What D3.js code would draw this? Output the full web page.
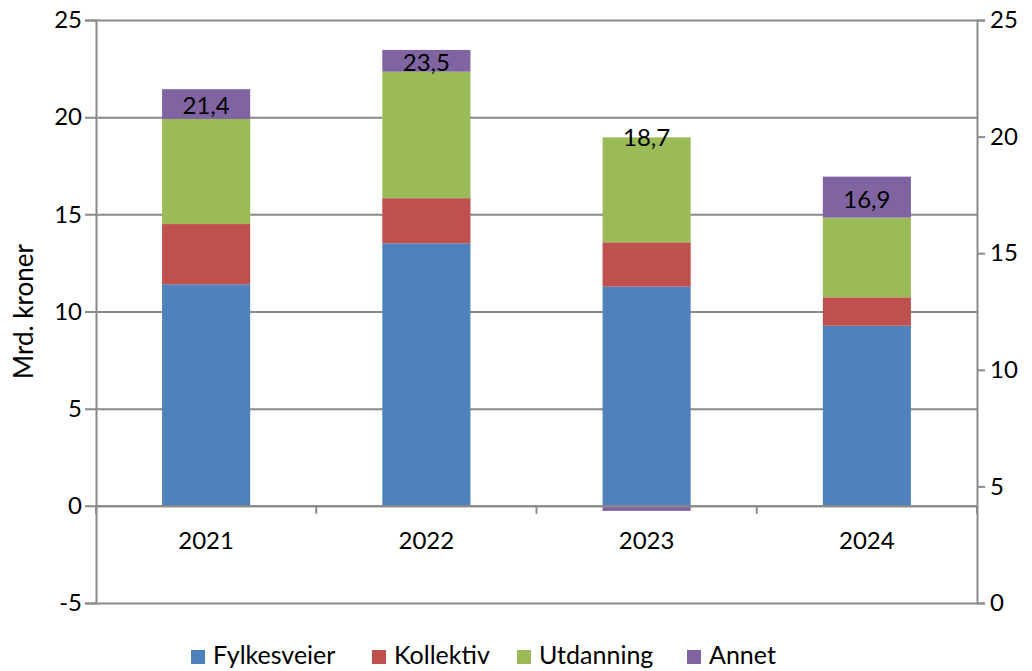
<!DOCTYPE html>
<html>
<head>
<meta charset="utf-8">
<script src="https://cdn.jsdelivr.net/npm/d3@7"></script>
<style>
  html, body { margin: 0; padding: 0; background: #fff; }
  svg text { font-family: Lato, "Open Sans", sans-serif; fill: #000; }
</style>
</head>
<body>
<svg id="chart" width="1032" height="671"></svg>
<script>
// ---- data (Mrd. kroner) ----
const years       = ['2021', '2022', '2023', '2024'];
const seriesNames = ['Fylkesveier', 'Kollektiv', 'Utdanning', 'Annet'];
const fylkesveier = [11.40, 13.51, 11.28, 9.27];
const kollektiv   = [3.10, 2.32, 2.28, 1.46];
const utdanning   = [5.41, 6.51, 5.40, 4.10];
const annet       = [1.53, 1.12, -0.26, 2.11];
const leftTicks   = [-5, 0, 5, 10, 15, 20, 25];
const rightTicks  = [0, 5, 10, 15, 20, 25];

const colors = ['#4f81bd', '#c0504d', '#9bbb59', '#8064a2'];
const gridCol = '#8a8a8a';

const rows = years.map((y, i) => ({
  year: y,
  Fylkesveier: fylkesveier[i],
  Kollektiv: kollektiv[i],
  Utdanning: utdanning[i],
  Annet: annet[i]
}));

const svg = d3.select('#chart');
const plot = { left: 96, right: 977, top: 20, bottom: 603 };

const x  = d3.scaleBand().domain(years).range([plot.left, plot.right])
  .paddingInner(0.6).paddingOuter(0.3);
const y  = d3.scaleLinear().domain([-5, 25]).range([plot.bottom, plot.top]);
const y2 = d3.scaleLinear().domain([0, 25]).range([plot.bottom, plot.top]);

/* gridlines + left axis */
const yAxis = svg.append('g')
  .attr('transform', `translate(${plot.left},0)`)
  .call(d3.axisLeft(y).tickValues(leftTicks).tickFormat(d => String(d))
    .tickSize(11).tickPadding(4));
yAxis.select('.domain').attr('stroke', gridCol).attr('stroke-width', 2);
yAxis.selectAll('.tick line')
  .attr('x2', plot.right - plot.left)
  .attr('x1', -11)
  .attr('stroke', gridCol).attr('stroke-width', 2);
yAxis.selectAll('.tick text').style('font-size', '24px').attr('x', -14);

/* right axis */
const y2Axis = svg.append('g')
  .attr('transform', `translate(${plot.right},0)`)
  .call(d3.axisRight(y2).tickValues(rightTicks).tickSize(8).tickPadding(5));
y2Axis.select('.domain').attr('stroke', gridCol).attr('stroke-width', 2);
y2Axis.selectAll('.tick line').attr('stroke', gridCol).attr('stroke-width', 2);
y2Axis.selectAll('.tick text').style('font-size', '24px');

/* stacked bars */
const stack = d3.stack().keys(seriesNames).offset(d3.stackOffsetDiverging);
const layers = stack(rows);

svg.append('g').selectAll('g').data(layers).join('g')
  .attr('fill', (d, i) => colors[i])
  .selectAll('rect').data(d => d).join('rect')
  .attr('x', d => x(d.data.year))
  .attr('width', x.bandwidth())
  .attr('y', d => y(d[1]))
  .attr('height', d => y(d[0]) - y(d[1]));

/* category axis on zero line */
const xAxis = svg.append('g')
  .attr('transform', `translate(0,${y(0)})`)
  .call(d3.axisBottom(x).tickSize(0).tickPadding(26));
xAxis.select('.domain').attr('stroke', gridCol).attr('stroke-width', 2);
xAxis.selectAll('.tick text').style('font-size', '24px');
const step = x.step();
const sep = d3.range(years.length + 1).map(i => plot.left + i * step);
xAxis.selectAll('line.sep').data(sep).join('line')
  .attr('class', 'sep')
  .attr('x1', d => d).attr('x2', d => d)
  .attr('y1', 0).attr('y2', 8)
  .attr('stroke', gridCol).attr('stroke-width', 2);

/* total labels */
const fmt = v => d3.format('.1f')(v).replace('.', ',');
const topLayer = layers[layers.length - 1];
svg.append('g').selectAll('text').data(rows).join('text')
  .attr('x', d => x(d.year) + x.bandwidth() / 2)
  .attr('y', (d, i) => {
    const seg = topLayer[i];
    return d.Annet > 0 ? (y(seg[0]) + y(seg[1])) / 2 + 2
      : y(d3.max(layers, l => l[i][1]));
  })
  .attr('dy', '0.35em')
  .attr('text-anchor', 'middle')
  .style('font-size', '24px')
  .text(d => fmt(seriesNames.reduce((s, k) => s + d[k], 0)));

/* y title */
svg.append('text')
  .attr('transform', `translate(33,${(plot.top + plot.bottom) / 2}) rotate(-90)`)
  .attr('text-anchor', 'middle')
  .style('font-size', '26px')
  .text('Mrd. kroner');

/* legend */
const legendX = [191, 372, 517, 687];
const legend = svg.append('g').selectAll('g').data(seriesNames).join('g')
  .attr('transform', (d, i) => `translate(${legendX[i]},655)`);
legend.append('rect').attr('x', 0).attr('y', -5).attr('width', 14).attr('height', 14)
  .attr('fill', (d, i) => colors[i]);
legend.append('text').attr('x', 22).attr('dy', '0.36em')
  .style('font-size', '25px').text(d => d);
</script>
</body>
</html>
